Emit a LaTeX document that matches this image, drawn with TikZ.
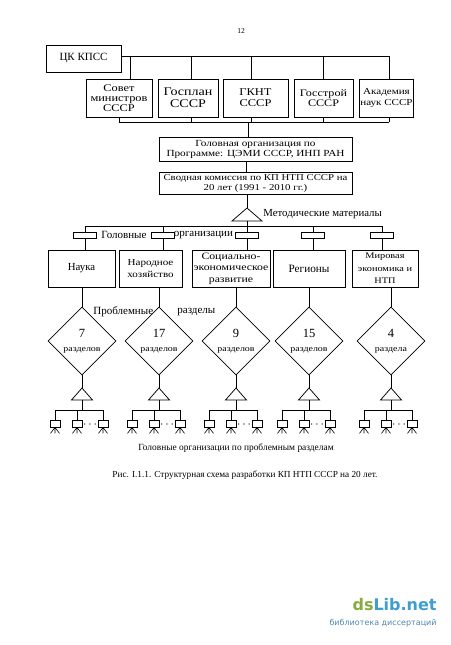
\documentclass[tikz,border=0pt]{standalone}
\usepackage{fontspec}
\setmainfont{Liberation Serif}
\newfontfamily\wf[FakeStretch=1.2]{Liberation Serif}
\newfontfamily\wmfont{DejaVu Sans}
\usetikzlibrary{shapes.geometric}
\definecolor{wmgreen}{RGB}{138,170,62}
\definecolor{wmblue}{RGB}{62,158,208}
\definecolor{wmgray}{RGB}{80,135,175}
\newcommand{\fs}[2]{\fontsize{#1}{#2}\selectfont}
\begin{document}
\begin{tikzpicture}[x=1pt,y=-1pt,line width=0.75pt,
  box/.style={draw,align=center,inner sep=1pt},
  dia/.style={draw,diamond,minimum width=68pt,minimum height=68pt,inner sep=0pt},
  sym/.style={draw,minimum width=23pt,minimum height=6pt,inner sep=0pt},
  sbox/.style={draw,minimum width=10pt,minimum height=7pt,inner sep=0pt},
  lbl/.style={inner sep=0pt}]
\useasboundingbox (0,0) rectangle (450,645);
\fill[white] (0,0) rectangle (450,645);

\node[lbl,font=\fs{7.5}{9}] (pg) at (241,31) {12};

% top
\node[box,minimum width=75pt,minimum height=27pt,font=\fs{11}{13}] (cpss) at (83.5,58.5) {ЦК КПСС};
\node[box,minimum width=66pt,minimum height=38pt,font=\wf\fs{10.3}{10.3}] (b1) at (119,98) {Совет\\министров\\СССР};
\node[box,minimum width=60pt,minimum height=38pt,font=\wf\fs{11.7}{12}] (b2) at (188,98) {Госплан\\СССР};
\node[box,minimum width=65pt,minimum height=38pt,font=\wf\fs{10.4}{10.8}] (b3) at (255.5,98) {ГКНТ\\СССР};
\node[box,minimum width=59pt,minimum height=38pt,font=\wf\fs{10.1}{10.6}] (b4) at (323.5,98) {Госстрой\\СССР};
\node[box,minimum width=53pt,minimum height=38pt,font=\wf\fs{9.2}{10.5}] (b5) at (386.5,98) {Академия\\наук СССР};

\coordinate (tl) at (389,56);
\draw (cpss.east |- tl) -- (tl);
\draw ([xshift=11pt]b1.north) -- ([xshift=11pt]b1.north |- tl);
\draw ([xshift=3pt]b2.north) -- ([xshift=3pt]b2.north |- tl);
\draw ([xshift=-4.5pt]b3.north) -- ([xshift=-4.5pt]b3.north |- tl);
\draw (b4.north) -- (b4.north |- tl);
\draw ([xshift=2.5pt]b5.north) -- (tl);

\node[box,minimum width=193pt,minimum height=24pt,font=\wf\fs{9.35}{10}] (hl) at (255.5,149) {Головная организация по\\Программе: ЦЭМИ СССР, ИНП РАН};
\node[box,minimum width=193pt,minimum height=22pt,font=\wf\fs{9}{10}] (sv) at (255.5,183) {Сводная комиссия по КП НТП СССР на\\20 лет (1991 - 2010 гг.)};

\coordinate (bl) at (389,122);
\draw (b1.south) -- (b1.south |- bl) -- (bl);
\draw ([xshift=3pt]b2.south) -- ([xshift=3pt]b2.south |- bl);
\draw ([xshift=-4.5pt]b3.south) -- ([xshift=-4.5pt]b3.south |- bl);
\draw (b4.south) -- (b4.south |- bl);
\draw ([xshift=2.5pt]b5.south) -- (bl);
\draw ([xshift=-7.5pt]hl.north) -- ([xshift=-7.5pt]hl.north |- bl);
\draw ([xshift=-9.5pt]hl.south) -- ([xshift=-9.5pt]sv.north);

% methodical triangle
\coordinate (ta) at (247,208);
\coordinate (tb) at (247,221);
\draw ([xshift=-8.5pt]sv.south) -- (ta);
\draw (ta) -- (262,221) -- (232,221) -- cycle;
\node[lbl,anchor=west,font=\fs{10.8}{12}] (mm) at (263,214) {Методические материалы};

\coordinate (hbL) at (85,226);
\coordinate (hbR) at (382,226);
\draw (hbL) -- (hbR);
\draw (tb) -- (tb |- hbL);

% second row
\node[box,minimum width=67pt,minimum height=37pt,font=\fs{10.8}{12}] (n1) at (81.5,268.5) {Наука};
\node[box,minimum width=63pt,minimum height=37pt,font=\wf\fs{9.2}{12}] (n2) at (150.5,268.5) {Народное\\хозяйство};
\node[box,minimum width=78pt,minimum height=37pt,font=\wf\fs{9.8}{11.5}] (n3) at (231,268.5) {Социально-\\экономическое\\развитие};
\node[box,minimum width=72pt,minimum height=37pt,font=\fs{11.2}{12}] (n4) at (309,268.5) {Регионы};
\node[box,minimum width=66pt,minimum height=37pt,font=\wf\fs{8.6}{12.5}] (n5) at (385,268.5) {Мировая\\экономика и\\НТП};

\foreach \i/\x in {1/85,2/163,3/247,4/313,5/382} {
  \node[sym] (r\i) at (\x,235) {};
  \draw (r\i.north) -- (r\i.north |- hbL);
  \draw (r\i.south) -- (r\i.south |- n\i.north);
}
\node[lbl,anchor=west,font=\fs{11}{12}] (go1) at (101,235) {Головные};
\node[lbl,anchor=west,font=\fs{11}{12}] (go2) at (173.5,235) {организации};

% diamonds and lower groups
\foreach \i/\c/\n/\w in {1/82/7/разделов,2/159/17/разделов,3/236/9/разделов,4/309/15/разделов,5/391/4/раздела} {
  \node[dia] (d\i) at (\c,341) {};
  \node[lbl,font=\fs{12.5}{14}] (dn\i) at ([yshift=7.5pt]d\i.center) {\n};
  \node[lbl,font=\wf\fs{8.3}{11}] (dw\i) at ([yshift=-9pt]d\i.center) {\w};
  \draw (d\i.north |- n\i.south) -- (d\i.north);
  \coordinate (la\i) at (\c,388);
  \coordinate (lb\i) at (\c,400);
  \coordinate (lh\i) at (\c,410);
  \draw (d\i.south) -- (la\i);
  \draw (la\i) -- ++(10.5,12) -- ++(-21,0) -- cycle;
  \draw (lb\i) -- (lh\i);
  \node[sbox] (sa\i) at ({\c-27},423.5) {};
  \node[sbox] (sb\i) at ({\c-5},423.5) {};
  \node[sbox] (sc\i) at ({\c+21},423.5) {};
  \draw (sa\i.north) -- (sa\i.north |- lh\i) -- (sc\i.north |- lh\i) -- (sc\i.north);
  \draw (sb\i.north) -- (sb\i.north |- lh\i);
  \foreach \s in {sa,sb,sc} {
    \draw[line width=0.6pt] (\s\i.south) -- ++(-4.5,6) (\s\i.south) -- ++(0,6) (\s\i.south) -- ++(4.5,6);
  }
  \node[lbl,font=\fs{12}{12}] (dots\i) at ({\c+8},425) {$\cdots$};
}
\node[lbl,anchor=west,font=\fs{11}{12}] (pr1) at (93,312) {Проблемные};
\node[lbl,anchor=west,font=\fs{11}{12}] (pr2) at (177,312) {разделы};

\node[lbl,font=\fs{9.4}{12}] (bottom) at (236,448) {Головные организации по проблемным разделам};
\node[lbl,font=\fs{9.25}{11}] (cap) at (245,475) {Рис. I.1.1. Структурная схема разработки КП НТП СССР на 20 лет.};

% watermark
\node[lbl,anchor=east,font=\wmfont\bfseries\fs{16}{18}] (wm1) at (437,605) {\textcolor{wmgreen}{ds}\textcolor{wmblue}{Lib.net}};
\node[lbl,anchor=east,font=\wmfont\fs{8}{10},text=wmgray] (wm2) at (437,623) {библиотека диссертаций};
\end{tikzpicture}
\end{document}
